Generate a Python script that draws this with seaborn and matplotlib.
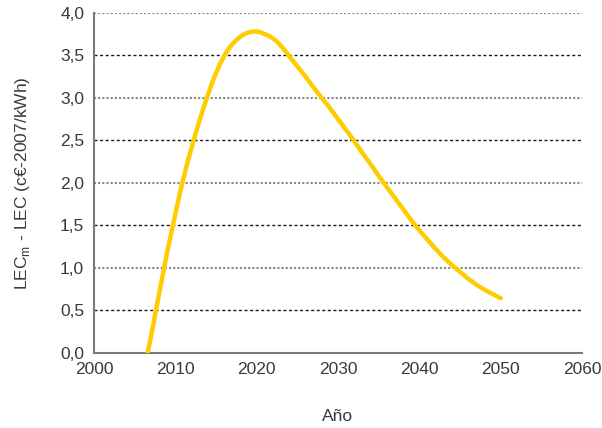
import numpy as np
import matplotlib
matplotlib.use('Agg')
import matplotlib.pyplot as plt
import pandas as pd
import seaborn as sns

# Werte
anos = [2006.6, 2007, 2008, 2009, 2010, 2010.5, 2011, 2011.5, 2012, 2012.5,
        2013, 2013.5, 2014, 2014.5, 2015, 2015.5, 2016, 2016.5, 2017, 2017.5,
        2018, 2018.5, 2019, 2019.5, 2020, 2020.5, 2021, 2021.5, 2022, 2022.5,
        2023, 2023.5, 2024, 2025, 2026, 2027, 2028, 2029, 2030, 2031, 2032,
        2033, 2034, 2035, 2036, 2037, 2038, 2039, 2040, 2041, 2042, 2043,
        2044, 2045, 2046, 2047, 2048, 2049, 2050]
delta_lec = [0.0, 0.18, 0.69, 1.18, 1.63, 1.85, 2.05, 2.24, 2.41, 2.58,
             2.74, 2.89, 3.03, 3.17, 3.29, 3.40, 3.49, 3.57, 3.63, 3.68,
             3.72, 3.75, 3.77, 3.78, 3.78, 3.77, 3.75, 3.73, 3.70, 3.66,
             3.61, 3.555, 3.49, 3.37, 3.25, 3.12, 3.00, 2.88, 2.75, 2.62, 2.49,
             2.35, 2.22, 2.08, 1.95, 1.82, 1.69, 1.56, 1.44, 1.33, 1.22, 1.12,
             1.03, 0.95, 0.87, 0.80, 0.74, 0.69, 0.64]

x_ticks = [2000, 2010, 2020, 2030, 2040, 2050, 2060]
y_ticks = [0.0, 0.5, 1.0, 1.5, 2.0, 2.5, 3.0, 3.5, 4.0]
y_labels = ['0,0', '0,5', '1,0', '1,5', '2,0', '2,5', '3,0', '3,5', '4,0']

df = pd.DataFrame({'Año': anos, 'dLEC': delta_lec})

sns.set_style('white')
plt.rcParams['font.family'] = ['Liberation Sans', 'DejaVu Sans']
txt = '#3a3a3a'
achse = '#7a7a7a'

fig = plt.figure(figsize=(6.02, 4.28), dpi=100)
ax = fig.add_axes([0.156, 0.176, 0.811, 0.794])

# Gitterlinien: ganze Zahlen grau gepunktet, halbe schwarz gestrichelt
for y in y_ticks[1:]:
    if y == int(y):
        ax.axhline(y, color='#858585', lw=1.5, ls=(0, (1, 1)), zorder=1)
    else:
        ax.axhline(y, color='#1a1a1a', lw=1.0, ls=(0, (2.2, 1.8)), zorder=1)

sns.lineplot(data=df, x='Año', y='dLEC', color='#FFCC00', lw=3.2, ax=ax,
             zorder=3, solid_joinstyle='round')

ax.set_xlim(2000, 2060)
ax.set_ylim(0, 4.0)
ax.set_xticks(x_ticks)
ax.set_yticks(y_ticks)
ax.set_yticklabels(y_labels)
ax.tick_params(axis='both', colors=achse, labelcolor=txt, labelsize=12.5,
               length=5, width=1.2, direction='out')
ax.tick_params(axis='x', pad=2)
ax.tick_params(axis='y', pad=2)

for s in ['top', 'right']:
    ax.spines[s].set_visible(False)
for s in ['left', 'bottom']:
    ax.spines[s].set_color(achse)
    ax.spines[s].set_linewidth(1.5)

ax.set_xlabel('Año', fontsize=12.5, color=txt, labelpad=23)
ax.set_ylabel(r'LEC$_\mathregular{m}$ - LEC (c€-2007/kWh)', fontsize=12.5,
              color=txt, labelpad=20)

fig.savefig('out.png', dpi=100)
